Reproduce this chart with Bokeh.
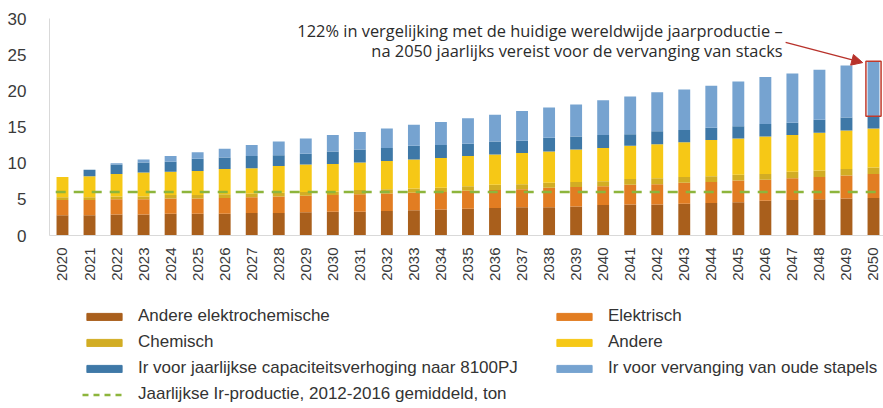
from bokeh.plotting import figure
from bokeh.layouts import column
from bokeh.models import (ColumnDataSource, Range1d, FixedTicker, Legend, LegendItem,
                          Label, Arrow, NormalHead)
from bokeh.embed import file_html
from bokeh.resources import INLINE
from math import pi

# ---------------- data ----------------
years = list(range(2020, 2051))
andere_elektrochemische = [2.8, 2.8, 2.9, 2.9, 3.0, 3.0, 3.0, 3.1, 3.1, 3.2, 3.3, 3.3, 3.4, 3.5, 3.6, 3.7,
                           3.8, 3.9, 3.9, 4.0, 4.2, 4.3, 4.3, 4.4, 4.5, 4.6, 4.8, 4.9, 5.0, 5.1, 5.2]
elektrisch = [2.1, 2.1, 2.1, 2.1, 2.1, 2.1, 2.2, 2.2, 2.3, 2.3, 2.3, 2.4, 2.4, 2.4, 2.4, 2.5,
              2.5, 2.5, 2.7, 2.7, 2.6, 2.7, 2.8, 2.9, 2.9, 3.0, 2.9, 3.0, 3.1, 3.2, 3.3]
chemisch = [0.4, 0.4, 0.4, 0.4, 0.5, 0.5, 0.5, 0.5, 0.5, 0.5, 0.5, 0.6, 0.6, 0.6, 0.6, 0.6,
            0.7, 0.7, 0.7, 0.7, 0.7, 0.8, 0.8, 0.8, 0.8, 0.8, 0.8, 0.9, 0.9, 0.9, 0.9]
andere = [2.8, 2.9, 3.1, 3.3, 3.2, 3.3, 3.5, 3.5, 3.7, 3.8, 3.8, 3.8, 3.9, 4.0, 4.1, 4.2,
          4.2, 4.3, 4.3, 4.5, 4.6, 4.6, 4.7, 4.8, 5.0, 5.0, 5.2, 5.1, 5.2, 5.3, 5.4]
capaciteit = [0.0, 0.9, 1.3, 1.4, 1.4, 1.7, 1.6, 1.7, 1.5, 1.5, 1.7, 1.8, 1.8, 1.9, 1.8, 1.7,
              1.8, 1.7, 1.9, 1.8, 1.8, 1.6, 1.8, 1.7, 1.7, 1.7, 1.7, 1.7, 1.8, 1.8, 1.7]
vervanging = [0.0, 0.0, 0.2, 0.4, 0.8, 0.9, 1.2, 1.5, 1.9, 2.1, 2.3, 2.4, 2.7, 2.9, 3.2, 3.5,
              3.7, 4.1, 4.2, 4.4, 4.8, 5.2, 5.4, 5.6, 5.8, 6.2, 6.5, 6.8, 6.9, 7.2, 7.6]
ir_productie = 6.0
y_ticks = [0, 5, 10, 15, 20, 25, 30]

series_keys = ["andere_elektrochemische", "elektrisch", "chemisch", "andere", "capaciteit", "vervanging"]
series_labels = ["Andere elektrochemische", "Elektrisch", "Chemisch", "Andere",
                 "Ir voor jaarlijkse capaciteitsverhoging naar 8100PJ",
                 "Ir voor vervanging van oude stapels"]
line_label = "Jaarlijkse Ir-productie, 2012-2016 gemiddeld, ton"
annot_1 = "122% in vergelijking met de huidige wereldwijde jaarproductie \u2013"
annot_2 = "na 2050 jaarlijks vereist voor de vervanging van stacks"

colors = ["#a95f1c", "#e27d22", "#d2ad24", "#f6c816", "#3e78a7", "#76a3d0"]
line_color = "#8db53c"

src = ColumnDataSource(dict(year=years,
                            andere_elektrochemische=andere_elektrochemische,
                            elektrisch=elektrisch, chemisch=chemisch, andere=andere,
                            capaciteit=capaciteit, vervanging=vervanging))

# ---------------- main chart ----------------
p = figure(width=883, height=290, output_backend="svg", toolbar_location=None,
           x_range=Range1d(2019.52, 2050.37), y_range=Range1d(0, 30),
           min_border_left=49, min_border_right=0, min_border_top=18, min_border_bottom=55)
p.outline_line_color = None
p.grid.visible = False

bars = p.vbar_stack(series_keys, x="year", width=0.44, color=colors, source=src, line_width=0)

line_x = [years[0] - 0.25, years[-1] + 0.45]
p.line(x=line_x, y=[ir_productie, ir_productie], line_color=line_color,
       line_width=2.5, line_dash="10 8")

# red box around the 2050 replacement segment
top_total = sum(s[-1] for s in [andere_elektrochemische, elektrisch, chemisch, andere, capaciteit, vervanging])
box_bottom = top_total - vervanging[-1]
p.quad(left=[years[-1] - 0.28], right=[years[-1] + 0.28], bottom=[box_bottom], top=[top_total],
       fill_color=None, line_color="#c0392b", line_width=1.5)

p.add_layout(Arrow(end=NormalHead(size=11, fill_color="#b8322b", line_color="#b8322b"),
                   x_start=2046.75, y_start=26.7, x_end=2049.6, y_end=23.9,
                   line_color="#b8322b", line_width=1.5))

for txt, yy in [(annot_1, 28.35), (annot_2, 25.6)]:
    p.add_layout(Label(x=2046.64, y=yy, text=txt, text_align="right", text_baseline="middle",
                       text_font="Open Sans", text_font_size="16.4px", text_color="#2b2b2b"))

p.yaxis.ticker = FixedTicker(ticks=y_ticks)
p.xaxis.ticker = FixedTicker(ticks=years)
p.xaxis.major_label_orientation = pi / 2
for ax in (p.xaxis, p.yaxis):
    ax.axis_line_color = "#d9d9d9"
    ax.major_tick_line_color = None
    ax.minor_tick_line_color = None
    ax.major_label_text_font = "Liberation Sans"
    ax.major_label_text_color = "#3a3a3a"
p.yaxis.major_label_text_font_size = "17px"
p.yaxis.major_label_standoff = 17
p.xaxis.major_label_text_font_size = "15px"
p.xaxis.major_label_standoff = 6

# ---------------- legend panel ----------------
lf = figure(width=883, height=118, output_backend="svg", toolbar_location=None,
            x_range=Range1d(0, 1), y_range=Range1d(0, 1),
            min_border_left=0, min_border_right=0, min_border_top=0, min_border_bottom=0)
lf.axis.visible = False
lf.grid.visible = False
lf.outline_line_color = None

# off-screen dummy renderers only used to draw the legend swatches
dummy = ColumnDataSource(dict(x=[10, 11], top=[0, 0]))
swatches = [lf.vbar(x="x", top="top", width=0.5, color=c, source=dummy) for c in colors]
swatch_line = lf.line(x="x", y="top", line_color=line_color, line_width=2.5,
                      line_dash="6 5", source=dummy)

all_items = [LegendItem(label=lab, renderers=[r]) for lab, r in zip(series_labels, swatches)]
all_items.append(LegendItem(label=line_label, renderers=[swatch_line]))

legend_style = dict(glyph_width=44, glyph_height=9, label_height=20,
                    label_standoff=12, spacing=6, padding=0, margin=0,
                    border_line_color=None, background_fill_alpha=0,
                    label_text_font="Liberation Sans", label_text_font_size="17px",
                    label_text_color="#333333")
left_leg = Legend(items=all_items[0::2], location=(33, 4), **legend_style)
right_leg = Legend(items=all_items[1::2], location=(503, 30), **legend_style)
lf.add_layout(left_leg)
lf.add_layout(right_leg)

open("out.html", "w").write(file_html(column(p, lf, spacing=0), INLINE))
